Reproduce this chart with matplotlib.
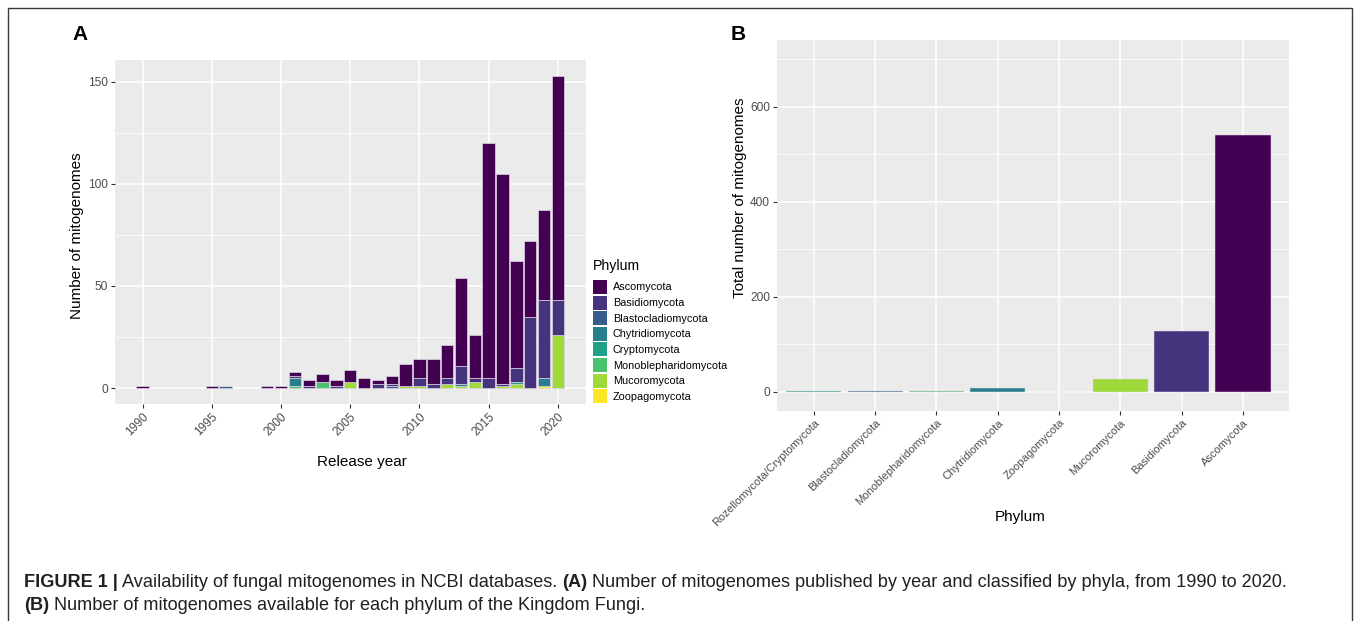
import matplotlib

matplotlib.use("Agg")
import matplotlib.pyplot as plt
import numpy as np
from matplotlib.patches import Patch, Rectangle
from matplotlib.text import Annotation

W, H = 1358, 621
plt.rcParams["font.family"] = ["Liberation Sans", "DejaVu Sans"]

PHYLA = ["Ascomycota", "Basidiomycota", "Blastocladiomycota", "Chytridiomycota",
         "Cryptomycota", "Monoblepharidomycota", "Mucoromycota", "Zoopagomycota"]
VIRIDIS8 = ["#440154", "#46337E", "#365C8D", "#277F8E",
            "#1FA187", "#4AC16D", "#9FDA3A", "#FDE725"]

# mitogenomes released per year, split by phylum
years = [1990, 1995, 1996, 1999, 2000, 2001, 2002, 2003, 2004, 2005, 2006, 2007, 2008,
         2009, 2010, 2011, 2012, 2013, 2014, 2015, 2016, 2017, 2018, 2019, 2020]
ascomycota = [1, 1, 0, 1, 1, 2, 3, 4, 3, 6, 5, 2, 4,
              11, 9, 12, 16, 43, 21, 115, 103, 52, 37, 44, 110]
basidiomycota = [0, 0, 0, 0, 0, 1, 1, 0, 1, 0, 0, 2, 1,
                 0, 4, 2, 3, 9, 2, 5, 1, 7, 35, 38, 17]
blastocladiomycota = [0, 0, 1, 0, 0, 0, 0, 0, 0, 0, 0, 0, 1,
                      0, 0, 0, 0, 0, 0, 0, 0, 0, 0, 0, 0]
chytridiomycota = [0, 0, 0, 0, 0, 4, 0, 0, 0, 0, 0, 0, 0,
                   0, 0, 0, 0, 1, 0, 0, 0, 0, 0, 4, 0]
cryptomycota = [0, 0, 0, 0, 0, 0, 0, 0, 0, 0, 0, 0, 0,
                0, 0, 0, 0, 0, 0, 0, 0, 1, 0, 0, 0]
monoblepharidomycota = [0, 0, 0, 0, 0, 1, 0, 3, 0, 0, 0, 0, 0,
                        0, 0, 0, 0, 0, 0, 0, 0, 0, 0, 0, 0]
mucoromycota = [0, 0, 0, 0, 0, 0, 0, 0, 0, 3, 0, 0, 0,
                1, 1, 0, 2, 1, 3, 0, 1, 2, 0, 0, 26]
zoopagomycota = [0, 0, 0, 0, 0, 0, 0, 0, 0, 0, 0, 0, 0,
                 0, 0, 0, 0, 0, 0, 0, 0, 0, 0, 1, 0]

year_ticks = [1990, 1995, 2000, 2005, 2010, 2015, 2020]

# total mitogenomes per phylum
phyla_b = ["Rozellomycota/Cryptomycota", "Blastocladiomycota", "Monoblepharidomycota",
           "Chytridiomycota", "Zoopagomycota", "Mucoromycota", "Basidiomycota", "Ascomycota"]
totals_b = [2, 2, 3, 8, 1, 27, 128, 541]

by_phylum = {
    "Ascomycota": ascomycota,
    "Basidiomycota": basidiomycota,
    "Blastocladiomycota": blastocladiomycota,
    "Chytridiomycota": chytridiomycota,
    "Cryptomycota": cryptomycota,
    "Monoblepharidomycota": monoblepharidomycota,
    "Mucoromycota": mucoromycota,
    "Zoopagomycota": zoopagomycota,
}
colour = dict(zip(PHYLA, VIRIDIS8))
colour["Rozellomycota/Cryptomycota"] = colour["Cryptomycota"]

PANEL_BG = "#EBEBEB"
TICK_COL = "#4D4D4D"
EDGE = "#DCD6E2"


def px_box(x0, y0, x1, y1):
    """pixel box (top-left origin) -> figure fraction rect"""
    return [x0 / W, 1 - y1 / H, (x1 - x0) / W, (y1 - y0) / H]


def gg_axes(ax):
    ax.set_facecolor(PANEL_BG)
    for s in ax.spines.values():
        s.set_visible(False)
    ax.grid(which="major", color="white", linewidth=1.1)
    ax.grid(which="minor", axis="y", color="white", linewidth=0.55)
    ax.set_axisbelow(True)
    ax.tick_params(which="major", length=2.75, width=0.8, color="#333333",
                   labelsize=8.6, labelcolor=TICK_COL, pad=2.2)
    ax.tick_params(which="minor", length=0)


fig = plt.figure(figsize=(W / 100, H / 100), dpi=100)

# ---- A: stacked bars by year
axA = fig.add_axes(px_box(115, 60, 585.5, 403.7))
gg_axes(axA)
bottom = np.zeros(len(years))
for name in reversed(PHYLA):
    vals = np.array(by_phylum[name], dtype=float)
    axA.bar(years, vals, width=0.9, bottom=bottom, color=colour[name],
            edgecolor=EDGE, linewidth=0.5)
    bottom += vals
axA.set_xlim(1988.0, 2022.0)
axA.set_ylim(-7.65, 160.65)
axA.set_xticks(year_ticks)
axA.set_xticklabels([str(y) for y in year_ticks], rotation=45, ha="right", va="top",
                    rotation_mode="anchor")
axA.set_yticks([0, 50, 100, 150])
axA.set_yticks([25, 75, 125], minor=True)
axA.set_xlabel("Release year", fontsize=11)
axA.xaxis.set_label_coords(0.525, -0.169)
axA.xaxis.label.set_va("center")
axA.set_ylabel("Number of mitogenomes", fontsize=11)
axA.yaxis.set_label_coords(-0.08, 0.49)
axA.yaxis.label.set_va("center")

handles = [Patch(facecolor=colour[p], edgecolor="none") for p in PHYLA]
leg = fig.legend(handles, PHYLA, title="Phylum", loc="upper left",
                 bbox_to_anchor=(593 / W, 1 - 259 / H), frameon=False,
                 fontsize=7.8, title_fontsize=10.2, handlelength=1.29, handleheight=1.61,
                 labelspacing=0.15, handletextpad=0.55, borderpad=0, borderaxespad=0)
leg._legend_box.align = "left"
leg._legend_box.sep = 5

# ---- B: totals per phylum
axB = fig.add_axes(px_box(777, 40, 1289, 410.7))
gg_axes(axB)
xb = np.arange(len(phyla_b))
axB.bar(xb, totals_b, width=0.9, color=[colour[p] for p in phyla_b],
        edgecolor=EDGE, linewidth=0.35)
axB.set_xlim(-0.6, 7.75)
axB.set_ylim(-39.4, 741)
axB.set_xticks(xb)
axB.set_xticklabels(phyla_b, rotation=45, ha="right", va="top", rotation_mode="anchor")
axB.tick_params(axis="x", labelsize=8.0)
axB.set_yticks([0, 200, 400, 600])
axB.set_yticks([100, 300, 500, 700], minor=True)
axB.set_xlabel("Phylum", fontsize=11)
axB.xaxis.set_label_coords(0.4746, -0.287)
axB.xaxis.label.set_va("center")
axB.set_ylabel("Total number of mitogenomes", fontsize=11)
axB.yaxis.set_label_coords(-0.072, 0.574)
axB.yaxis.label.set_va("center")

fig.text(80 / W, 1 - 35 / H, "A", fontsize=15, fontweight="bold", ha="center", va="center")
fig.text(738 / W, 1 - 35 / H, "B", fontsize=15, fontweight="bold", ha="center", va="center")

# ---- caption with mixed weights
CAP_FONT = ["Liberation Sans Narrow", "Liberation Sans"]
CAP_SIZE = 13.1


def caption_line(x, y, parts):
    prev = None
    for txt, weight, gap in parts:
        if prev is None:
            prev = fig.text(x, y, txt, fontsize=CAP_SIZE, fontweight=weight,
                            family=CAP_FONT, ha="left", va="baseline", color="#231F20")
        else:
            ann = Annotation(txt, xy=(1, 0), xycoords=prev, xytext=(gap, 0),
                             textcoords="offset points", fontsize=CAP_SIZE,
                             fontweight=weight, family=CAP_FONT, ha="left",
                             va="bottom", color="#231F20")
            fig.add_artist(ann)
            prev = ann


caption_line(24 / W, 1 - 587 / H, [
    ("FIGURE 1 |", "bold", 0),
    ("Availability of fungal mitogenomes in NCBI databases.", "normal", 3.3),
    ("(A)", "bold", 3.3),
    ("Number of mitogenomes published by year and classified by phyla, from 1990 to 2020.",
     "normal", 3.3),
])
caption_line(24 / W, 1 - 610 / H, [
    ("(B)", "bold", 0),
    ("Number of mitogenomes available for each phylum of the Kingdom Fungi.", "normal", 3.3),
])

fig.add_artist(Rectangle((8 / W, -0.05), (1352 - 8) / W, 1.05 - 8 / H,
                         transform=fig.transFigure, fill=False,
                         edgecolor="#3A3A3A", linewidth=1.0))

fig.savefig("out.png", dpi=100)
